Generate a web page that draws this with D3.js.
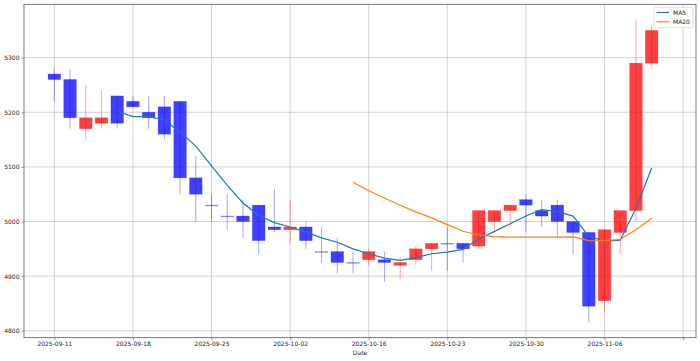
<!DOCTYPE html>
<html><head><meta charset="utf-8">
<script src="https://cdn.jsdelivr.net/npm/d3@7"></script>
<style>body{margin:0;background:#fff;} text{font-family:"DejaVu Sans",sans-serif;}</style>
</head><body><svg id="chart" width="700" height="361"></svg>
<script>
// Candle data (index-based trading days)
const openV  = [5270,5260,5170,5180,5230,5220,5200,5210,5220,5080,5030,5010,5010,5030,4990,4985,4990,4945,4945,4925,4930,4930,4920,4930,4950,4960,4960,4955,5000,5020,5040,5020,5030,5000,4980,4855,4980,5020,5290];
const highV  = [5280,5280,5250,5240,5230,5230,5230,5230,5220,5120,5050,5050,5040,5030,5060,5040,5000,4990,4970,4945,4950,4945,4935,4955,4960,4990,4960,5020,5020,5030,5050,5040,5040,5000,4980,4985,5020,5370,5360];
const lowV   = [5220,5170,5150,5170,5170,5210,5170,5150,5050,5000,5000,4985,4970,4940,4980,4960,4950,4925,4905,4905,4920,4890,4895,4920,4910,4910,4925,4950,4985,4990,4980,4990,4970,4940,4815,4835,4940,5000,5280];
const closeV = [5260,5190,5190,5190,5180,5210,5190,5160,5080,5050,5030,5010,5000,4965,4985,4990,4965,4945,4925,4925,4945,4925,4925,4950,4960,4960,4950,5020,5020,5030,5030,5010,5000,4980,4845,4985,5020,5290,5350];
const tickIdx = [0,5,10,15,20,25,30,35,40];
const tickLabels = ["2025-09-11","2025-09-18","2025-09-25","2025-10-02","2025-10-16","2025-10-23","2025-10-30","2025-11-06",""];
const yTicks = [4800,4900,5000,5100,5200,5300];
const seriesNames = ["MA5","MA20"];

function rolling(arr, n){ return arr.map((d,i)=> i<n-1 ? null : d3.mean(arr.slice(i-n+1,i+1))); }
const ma5 = rolling(closeV,5), ma20 = rolling(closeV,20);

const svg = d3.select("#chart");
const L=24, R=696, T=4.3, B=337.7;
const x = d3.scaleLinear().domain([-1.93,40.82]).range([L,R]);
const y = d3.scaleLinear().domain([4787.25,5397.75]).range([B,T]);

// grid
const g = svg.append("g");
g.selectAll(".gx").data(tickIdx).join("line").attr("x1",d=>x(d)).attr("x2",d=>x(d)).attr("y1",T).attr("y2",B).attr("stroke","#b0b0b0").attr("stroke-opacity",0.7).attr("stroke-width",0.8);
g.selectAll(".gy").data(yTicks).join("line").attr("x1",L).attr("x2",R).attr("y1",d=>y(d)).attr("y2",d=>y(d)).attr("stroke","#b0b0b0").attr("stroke-opacity",0.7).attr("stroke-width",0.8);

// candles
const idx = d3.range(closeV.length);
const col = i => closeV[i] > openV[i] ? "#ff0000" : "#0000ff";
const bw = x(0.8)-x(0);
svg.append("g").selectAll("line").data(idx).join("line")
  .attr("x1",i=>x(i)).attr("x2",i=>x(i)).attr("y1",i=>y(highV[i])).attr("y2",i=>y(lowV[i]))
  .attr("stroke",col).attr("stroke-opacity",0.35).attr("stroke-width",1);
svg.append("g").selectAll("rect").data(idx).join("rect")
  .attr("x",i=>x(i)-bw/2).attr("width",bw)
  .attr("y",i=>y(Math.max(openV[i],closeV[i])))
  .attr("height",i=>Math.max(0.8, Math.abs(y(openV[i])-y(closeV[i]))))
  .attr("fill",col).attr("fill-opacity",i=>openV[i]===closeV[i]?0.35:0.75)
  .attr("stroke",col).attr("stroke-opacity",0.35).attr("stroke-width",0.6);

// MA lines
const line = d3.line().defined(d=>d[1]!==null).x(d=>x(d[0])).y(d=>y(d[1]));
svg.append("path").attr("d",line(ma5.map((v,i)=>[i,v]))).attr("fill","none").attr("stroke","#1f77b4").attr("stroke-width",1.2);
svg.append("path").attr("d",line(ma20.map((v,i)=>[i,v]))).attr("fill","none").attr("stroke","#ff7f0e").attr("stroke-width",1.2);

// spines
svg.append("rect").attr("x",L).attr("y",T).attr("width",R-L).attr("height",B-T).attr("fill","none").attr("stroke","#555").attr("stroke-width",0.8);

// axes
const xAxis = d3.axisBottom(x).tickValues(tickIdx).tickFormat((d,i)=>tickLabels[i]).tickSize(2.5).tickPadding(2);
const xa = svg.append("g").attr("transform",`translate(0,${B})`).call(xAxis);
const yAxis = d3.axisLeft(y).tickValues(yTicks).tickFormat(d3.format("d")).tickSize(2.5).tickPadding(2);
const ya = svg.append("g").attr("transform",`translate(${L},0)`).call(yAxis);
[xa,ya].forEach(a=>{a.select(".domain").remove(); a.selectAll("line").attr("stroke","#555").attr("stroke-width",0.6); a.selectAll("text").attr("font-size","6px").attr("fill","#222").attr("font-family","DejaVu Sans");});
svg.append("text").attr("x",(L+R)/2).attr("y",355).attr("text-anchor","middle").attr("font-size","6px").attr("fill","#222").text("Date");

// legend
const lg = svg.append("g");
lg.append("rect").attr("x",654).attr("y",7.3).attr("width",39).attr("height",20.4).attr("fill","#fff").attr("fill-opacity",0.8).attr("stroke","#ccc").attr("stroke-width",0.6).attr("rx",1.5);
const lcol = ["#1f77b4","#ff7f0e"];
seriesNames.forEach((n,i)=>{
  const yy = 12.5 + i*9.3;
  lg.append("line").attr("x1",656.5).attr("x2",669).attr("y1",yy).attr("y2",yy).attr("stroke",lcol[i]).attr("stroke-width",1.2);
  lg.append("text").attr("x",673).attr("y",yy+2.1).attr("font-size","6px").attr("fill","#222").text(n);
});
</script></body></html>
